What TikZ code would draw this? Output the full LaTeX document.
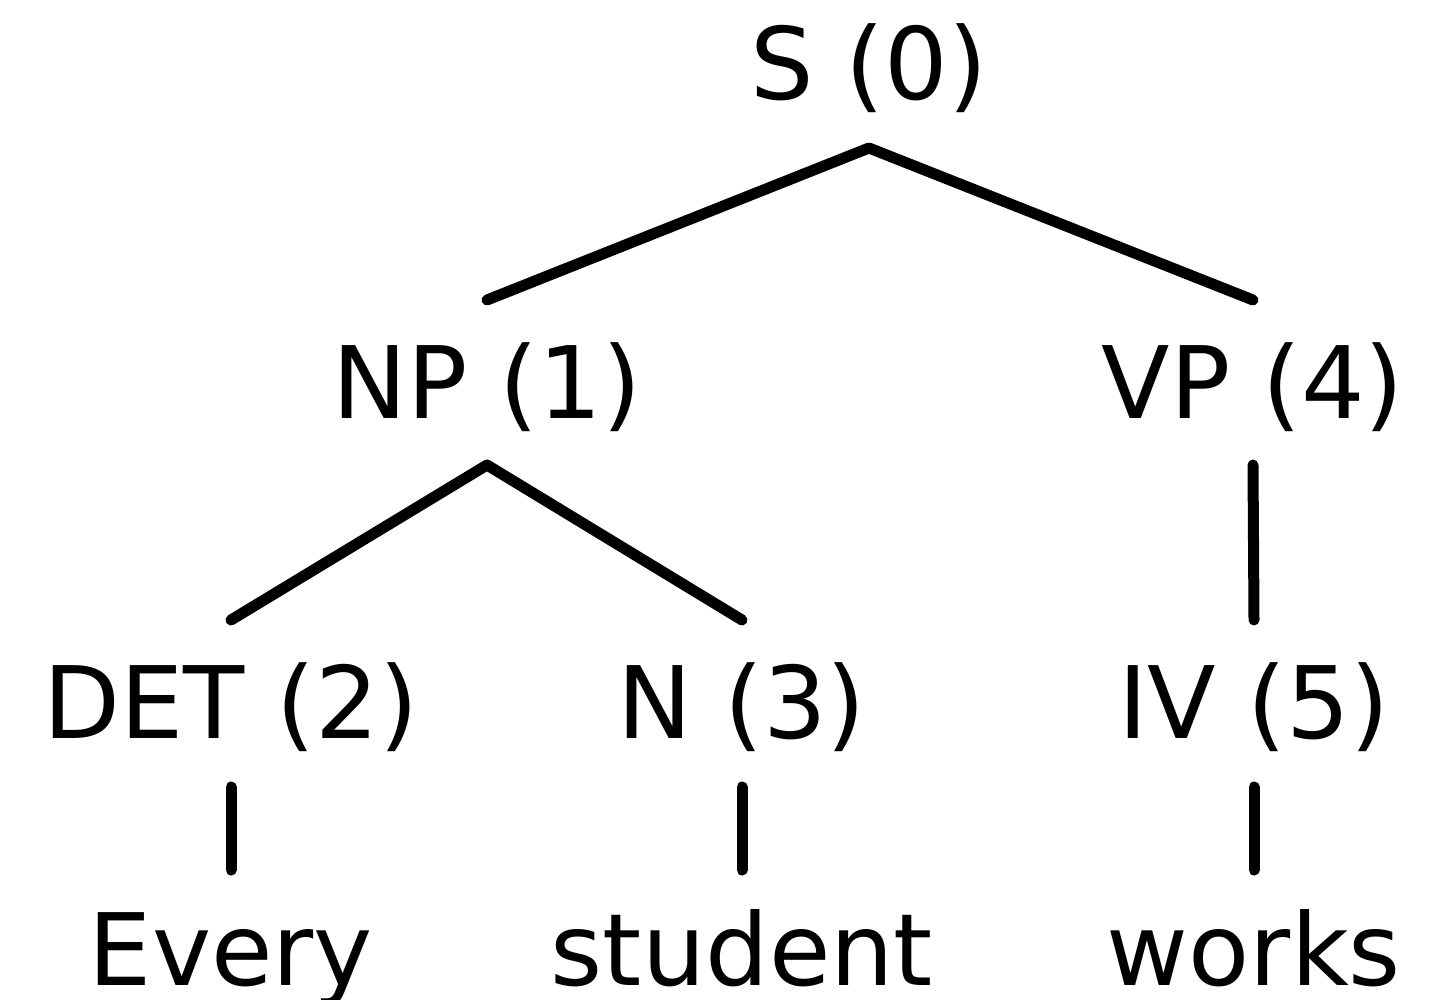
\documentclass[tikz,border=0pt]{standalone}
\usepackage{fontspec}
\setmainfont{DejaVu Sans}
\usetikzlibrary{calc}
\begin{document}
\begin{tikzpicture}[x=0.5pt,y=-0.5pt,
  lbl/.style={anchor=base,inner sep=0pt,font=\fontsize{50pt}{60pt}\selectfont},
  edge/.style={line width=5.5pt,line cap=round,line join=round}]
\useasboundingbox (0,0) rectangle (1435,1000);
\node[lbl] (s) at (869,100) {S (0)};
\node[lbl] (np) at (487,418) {NP (1)};
\node[lbl] (vp) at (1253,418) {VP (4)};
\node[lbl] (det) at (231,738) {DET (2)};
\node[lbl] (n) at (742,738) {N (3)};
\node[lbl] (iv) at (1254,738) {IV (5)};
\node[lbl] (every) at (231,985) {Every};
\node[lbl] (student) at (742,985) {student};
\node[lbl] (works) at (1254,985) {works};
\draw[edge] ($(np.base)+(0,-118)$) -- ($(s.base)+(0,48)$) -- ($(vp.base)+(0,-118)$);
\draw[edge] ($(det.base)+(0,-118)$) -- ($(np.base)+(0,47)$) -- ($(n.base)+(0,-118)$);
\draw[edge] ($(vp.base)+(0,47)$) -- ($(iv.base)+(0,-118)$);
\draw[edge] ($(det.base)+(0,49)$) -- ($(every.base)+(0,-115)$);
\draw[edge] ($(n.base)+(0,49)$) -- ($(student.base)+(0,-115)$);
\draw[edge] ($(iv.base)+(0,49)$) -- ($(works.base)+(0,-115)$);
\end{tikzpicture}
\end{document}
